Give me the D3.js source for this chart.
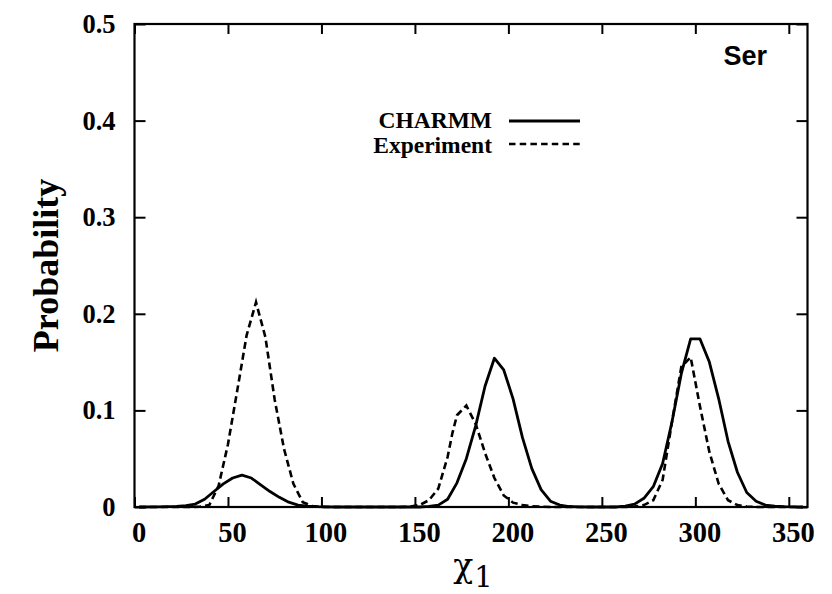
<!DOCTYPE html>
<html>
<head>
<meta charset="utf-8">
<script src="https://cdn.jsdelivr.net/npm/d3@7"></script>
<style>
  body { margin: 0; background: #fff; }
  svg { display: block; }
  .axis text { font-family: "Liberation Serif", "Times New Roman", serif; font-weight: bold; fill: #000; }
  .chi { font-family: "DejaVu Serif", "Liberation Serif", serif; }
</style>
</head>
<body>
<svg width="832" height="594"></svg>
<script>

// data
var charmmChi = [2.5, 12.5, 17.5, 22.5, 27.5, 32.5, 37.5, 42.5, 47.5, 52.5, 57.5, 62.5, 67.5, 72.5, 77.5, 82.5, 87.5, 92.5, 97.5, 102.5, 107.5,
  152.5, 157.5, 162.5, 167.5, 172.5, 177.5, 182.5, 187.5, 192.5, 197.5, 202.5, 207.5, 212.5, 217.5, 222.5, 227.5, 232.5, 237.5, 242.5,
  257.5, 262.5, 267.5, 272.5, 277.5, 282.5, 287.5, 292.5, 297.5, 302.5, 307.5, 312.5, 317.5, 322.5, 327.5, 332.5, 337.5, 342.5, 347.5, 352.5, 357.5];
var charmmProb = [0, 0.0001, 0.0003, 0.0007, 0.0015, 0.003, 0.008, 0.016, 0.024, 0.030, 0.033, 0.030, 0.023, 0.016, 0.010, 0.005, 0.002, 0.001, 0.0004, 0.0001, 0,
  0, 0.0006, 0.002, 0.008, 0.025, 0.050, 0.084, 0.125, 0.154, 0.142, 0.112, 0.072, 0.040, 0.018, 0.006, 0.002, 0.0005, 0.0001, 0,
  0, 0.001, 0.003, 0.009, 0.021, 0.045, 0.088, 0.138, 0.174, 0.174, 0.150, 0.112, 0.068, 0.036, 0.015, 0.006, 0.002, 0.0008, 0.0003, 0.0001, 0];

var exptChi = [2.5, 30, 35, 40, 45, 50, 55, 60, 65, 70, 75, 80, 85, 90, 95, 100, 105,
  142.5, 147.5, 152.5, 157.5, 162.5, 167.5, 170, 172.5, 177.5, 182.5, 187.5, 192.5, 197.5, 202.5, 207.5, 212.5, 217.5, 222.5,
  262.5, 267.5, 272.5, 277.5, 282.5, 287.5, 292.5, 297.5, 302.5, 307.5, 312.5, 317.5, 322.5, 327.5, 332.5, 357.5];
var exptProb = [0, 0, 0.0003, 0.002, 0.022, 0.065, 0.121, 0.178, 0.212, 0.176, 0.111, 0.060, 0.024, 0.005, 0.001, 0.0002, 0,
  0, 0.0005, 0.002, 0.007, 0.019, 0.052, 0.076, 0.095, 0.105, 0.086, 0.056, 0.030, 0.012, 0.0045, 0.002, 0.0008, 0.0003, 0,
  0, 0.0005, 0.002, 0.007, 0.028, 0.088, 0.145, 0.155, 0.104, 0.057, 0.024, 0.007, 0.002, 0.0005, 0, 0];

var xTicks = [0, 50, 100, 150, 200, 250, 300, 350];
var yTicks = [0, 0.1, 0.2, 0.3, 0.4, 0.5];
var legendNames = ["CHARMM", "Experiment"];

var svg = d3.select("svg"),
    plotLeft = 134.5, plotRight = 807.5, plotTop = 24, plotBottom = 507;

var x = d3.scaleLinear().domain([0, 360]).range([plotLeft, plotRight]),
    y = d3.scaleLinear().domain([0, 0.5]).range([plotBottom, plotTop]);

function zip(a, b) { return a.map(function(v, i) { return [v, b[i]]; }); }

var line = d3.line()
    .x(function(d) { return x(d[0]); })
    .y(function(d) { return y(d[1]); });

function blackTicks(g) {
  g.select(".domain").remove();
  g.selectAll("line").attr("stroke", "#000").attr("stroke-width", 2);
}

// ticks, all four sides, pointing in
svg.append("g")
    .attr("class", "axis")
    .attr("transform", "translate(0," + plotBottom + ")")
    .call(d3.axisBottom(x).tickValues(xTicks).tickFormat(d3.format("d")).tickSizeInner(-10).tickSizeOuter(0).tickPadding(15))
    .call(blackTicks)
    .call(function(g) { g.selectAll("text").attr("dx", 4).style("font-size", "28.5px"); });

svg.append("g")
    .attr("transform", "translate(0," + plotTop + ")")
    .call(d3.axisTop(x).tickValues(xTicks).tickSizeInner(-10).tickSizeOuter(0).tickFormat(""))
    .call(blackTicks);

svg.append("g")
    .attr("class", "axis")
    .attr("transform", "translate(" + plotLeft + ",0)")
    .call(d3.axisLeft(y).tickValues(yTicks).tickFormat(function(d) { return d === 0 ? "0" : d3.format(".1f")(d); }).tickSizeInner(-11).tickSizeOuter(0).tickPadding(19))
    .call(blackTicks)
    .call(function(g) { g.selectAll("text").style("font-size", "26.5px"); });

svg.append("g")
    .attr("transform", "translate(" + plotRight + ",0)")
    .call(d3.axisRight(y).tickValues(yTicks).tickSizeInner(-11).tickSizeOuter(0).tickFormat(""))
    .call(blackTicks);

// curves
svg.append("path")
    .datum(zip(charmmChi, charmmProb))
    .attr("fill", "none")
    .attr("stroke", "#000")
    .attr("stroke-width", 2.8)
    .attr("stroke-linejoin", "round")
    .attr("d", line);

svg.append("path")
    .datum(zip(exptChi, exptProb))
    .attr("fill", "none")
    .attr("stroke", "#000")
    .attr("stroke-width", 2.6)
    .attr("stroke-dasharray", "7,4")
    .attr("d", line);

// frame
svg.append("rect")
    .attr("x", plotLeft).attr("y", plotTop)
    .attr("width", plotRight - plotLeft).attr("height", plotBottom - plotTop)
    .attr("fill", "none").attr("stroke", "#000").attr("stroke-width", 2.2);

// legend
var legend = svg.append("g").attr("font-family", "Liberation Serif, serif").attr("font-weight", "bold").attr("font-size", 23.5);
legendNames.forEach(function(name, i) {
  var yy = 128 + i * 25;
  legend.append("text")
      .attr("x", 492).attr("y", yy)
      .attr("text-anchor", "end")
      .text(name);
  legend.append("line")
      .attr("x1", 509).attr("x2", 580)
      .attr("y1", yy - 7 - i * 2).attr("y2", yy - 7 - i * 2)
      .attr("stroke", "#000")
      .attr("stroke-width", i === 0 ? 2.8 : 2.6)
      .attr("stroke-dasharray", i === 0 ? null : "6.5,4.2");
});

svg.append("text")
    .attr("x", 767).attr("y", 65)
    .attr("text-anchor", "end")
    .attr("font-family", "Liberation Sans, Arial, sans-serif")
    .attr("font-weight", "bold")
    .attr("font-size", 27)
    .text("Ser");

// axis titles
svg.append("text")
    .attr("transform", "translate(58," + ((plotTop + plotBottom) / 2) + ") rotate(-90)")
    .attr("text-anchor", "middle")
    .attr("font-family", "Liberation Serif, serif")
    .attr("font-weight", "bold")
    .attr("font-size", 36)
    .text("Probability");

var xt = svg.append("text")
    .attr("class", "chi")
    .attr("x", (plotLeft + plotRight) / 2 + 2).attr("y", 577)
    .attr("text-anchor", "middle")
    .style("font-size", "33px");
xt.append("tspan").text("χ");
xt.append("tspan").attr("dy", 10).attr("dx", 1).style("font-size", "29px").text("1");

</script>
</body>
</html>
